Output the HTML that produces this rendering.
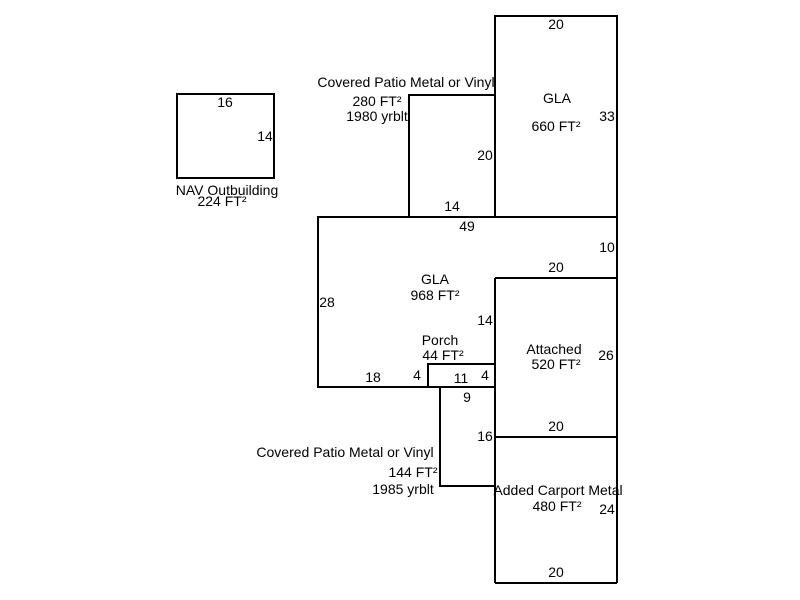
<!DOCTYPE html>
<html><head><style>body{margin:0;background:#fff}svg{display:block}text{font-family:"Liberation Sans",Arial,sans-serif;font-size:14px;fill:#000}</style></head>
<body>
<svg width="800" height="600" viewBox="0 0 800 600">
<g fill="none" stroke="#000" stroke-width="2">
<rect x="177" y="94" width="97" height="84"/>
<rect x="495" y="16" width="122" height="201"/>
<polyline points="495,95 409,95 409,217"/>
<polyline points="495,217 318,217 318,387 428,387"/>
<line x1="617" y1="217" x2="617" y2="583"/>
<line x1="495" y1="278" x2="617" y2="278"/>
<line x1="495" y1="278" x2="495" y2="583"/>
<line x1="495" y1="437" x2="617" y2="437"/>
<line x1="495" y1="583" x2="617" y2="583"/>
<polyline points="495,364 428,364 428,387 495,387"/>
<polyline points="440,387 440,486 495,486"/>
</g>
<g text-anchor="middle">
<text x="225" y="107">16</text>
<text x="265" y="141">14</text>
<text x="227" y="195">NAV Outbuilding</text>
<text x="222" y="206">224 FT²</text>
<text x="556" y="29">20</text>
<text x="557" y="103">GLA</text>
<text x="556" y="131">660 FT²</text>
<text x="607" y="121">33</text>
<text x="406" y="87">Covered Patio Metal or Vinyl</text>
<text x="377" y="106">280 FT²</text>
<text x="377" y="121">1980 yrblt</text>
<text x="485" y="160">20</text>
<text x="452" y="211">14</text>
<text x="467" y="231">49</text>
<text x="607" y="252">10</text>
<text x="556" y="272">20</text>
<text x="435" y="284">GLA</text>
<text x="435" y="300">968 FT²</text>
<text x="327" y="307">28</text>
<text x="485" y="325">14</text>
<text x="440" y="345">Porch</text>
<text x="443" y="360">44 FT²</text>
<text x="554" y="354">Attached</text>
<text x="556" y="369">520 FT²</text>
<text x="606" y="360">26</text>
<text x="373" y="382">18</text>
<text x="417" y="380">4</text>
<text x="461" y="383">11</text>
<text x="485" y="380">4</text>
<text x="467" y="402">9</text>
<text x="485" y="441">16</text>
<text x="556" y="431">20</text>
<text x="345" y="457">Covered Patio Metal or Vinyl</text>
<text x="413" y="477">144 FT²</text>
<text x="403" y="494">1985 yrblt</text>
<text x="558" y="495">Added Carport Metal</text>
<text x="557" y="511">480 FT²</text>
<text x="607" y="514">24</text>
<text x="556" y="577">20</text>
</g>
</svg>
</body></html>
